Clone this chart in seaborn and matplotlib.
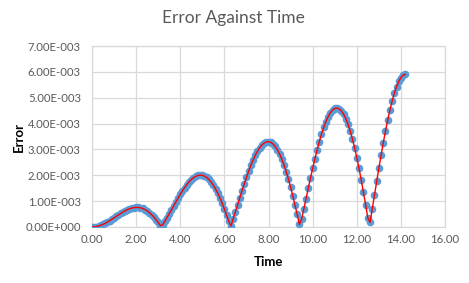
import matplotlib
matplotlib.use("Agg")
import matplotlib.pyplot as plt
import seaborn as sns
import pandas as pd
from matplotlib.ticker import FuncFormatter, MultipleLocator

# Time values (0.0 .. 14.2 in steps of 0.1)
time = [round(0.1 * i, 1) for i in range(143)]

# Error values (in units of 1e-3)
error_e3 = [
    0.000, 0.004, 0.017, 0.037, 0.065, 0.100, 0.141, 0.188, 0.239, 0.294,
    0.351, 0.409, 0.466, 0.522, 0.575, 0.624, 0.667, 0.703, 0.731, 0.750,
    0.758, 0.756, 0.742, 0.715, 0.676, 0.624, 0.559, 0.481, 0.391, 0.289,
    0.177, 0.054, 0.078, 0.217, 0.362, 0.512, 0.664, 0.817, 0.970, 1.119,
    1.262, 1.399, 1.527, 1.643, 1.746, 1.834, 1.906, 1.960, 1.994, 2.008,
    1.999, 1.969, 1.916, 1.839, 1.740, 1.618, 1.474, 1.309, 1.124, 0.920,
    0.699, 0.463, 0.215, 0.044, 0.311, 0.583, 0.857, 1.131, 1.401, 1.664,
    1.918, 2.158, 2.383, 2.589, 2.773, 2.934, 3.067, 3.173, 3.248, 3.291,
    3.301, 3.276, 3.217, 3.123, 2.993, 2.830, 2.634, 2.405, 2.146, 1.859,
    1.547, 1.211, 0.855, 0.483, 0.097, 0.298, 0.698, 1.099, 1.498, 1.889,
    2.268, 2.633, 2.977, 3.297, 3.590, 3.852, 4.079, 4.268, 4.418, 4.525,
    4.587, 4.603, 4.573, 4.494, 4.367, 4.198, 3.981, 3.717, 3.413, 3.068,
    2.685, 2.269, 1.822, 1.351, 0.856, 0.346, 0.177, 0.705, 1.236, 1.762,
    2.278, 2.779, 3.259, 3.713, 4.137, 4.524, 4.873, 5.176, 5.431, 5.633,
    5.783, 5.876, 5.910,
]
error = [v * 1e-3 for v in error_e3]

title = "Error Against Time"
x_label = "Time"
y_label = "Error"

df = pd.DataFrame({"Time": time, "Error": error})

sns.set_style("whitegrid")
plt.rcParams["font.family"] = ["Lato", "DejaVu Sans"]

fig = plt.figure(figsize=(4.69, 2.83), dpi=100)
ax = fig.add_axes([0.196, 0.198, 0.753, 0.639])

sns.scatterplot(data=df, x="Time", y="Error", ax=ax, color="#5B9BD5",
                s=30, linewidth=0, zorder=3)
sns.lineplot(data=df, x="Time", y="Error", ax=ax, color="#FF0000",
             linewidth=1.0, sort=False, zorder=4)

ax.set_xlim(0, 16)
ax.set_ylim(0, 0.007)
ax.xaxis.set_major_locator(MultipleLocator(2))
ax.yaxis.set_major_locator(MultipleLocator(0.001))


def sci_fmt(v, pos):
    if abs(v) < 1e-12:
        return "0.00E+000"
    s = f"{v:.2E}"
    mant, exp = s.split("E")
    e = int(exp)
    sign = "+" if e >= 0 else "-"
    return f"{mant}E{sign}{abs(e):03d}"


ax.yaxis.set_major_formatter(FuncFormatter(sci_fmt))
ax.xaxis.set_major_formatter(FuncFormatter(lambda v, p: f"{v:.2f}"))

ax.grid(True, color="#D9D9D9", linewidth=0.9)
for sp in ax.spines.values():
    sp.set_color("#D9D9D9")
    sp.set_linewidth(0.9)

ax.tick_params(axis="both", length=0, labelsize=8.2, labelcolor="#595959")
ax.tick_params(axis="y", pad=8)
ax.tick_params(axis="x", pad=5)

ax.set_xlabel(x_label, fontsize=9.5, fontweight="bold", color="black")
ax.set_ylabel(y_label, fontsize=9.5, fontweight="bold", color="black")
ax.xaxis.label.set_va("center")
ax.yaxis.label.set_va("center")
ax.xaxis.set_label_coords(0.5, -0.193)
ax.yaxis.set_label_coords(-0.207, 0.5)

fig.suptitle(title, x=0.498, y=0.965, fontsize=12.5, color="#595959")

fig.savefig("out.png", dpi=100)
